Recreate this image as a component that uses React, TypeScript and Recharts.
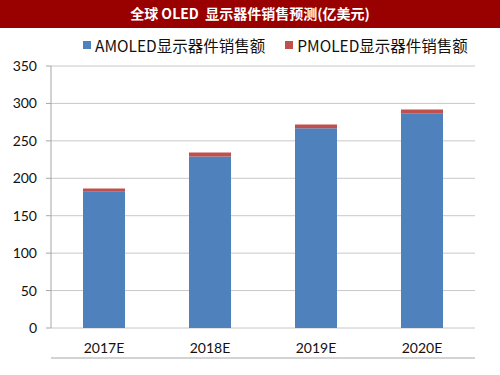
import React from 'react';
import { BarChart, Bar, XAxis, YAxis, CartesianGrid } from 'recharts';

const years = ['2017E', '2018E', '2019E', '2020E'];
const amoled = [182, 229, 267, 287];
const pmoled = [4.5, 5.5, 5, 5];
const yTicks = [0, 50, 100, 150, 200, 250, 300, 350];
const bounds = [0, 1, 2, 3, 4];

const AMOLED_NAME = 'AMOLED显示器件销售额';
const PMOLED_NAME = 'PMOLED显示器件销售额';

const data = years.map((y, i) => ({ year: y, idx: i + 0.5, amoled: amoled[i], pmoled: pmoled[i] }));

const font = '"Noto Sans CJK SC", "Noto Sans", sans-serif';
const tickFont = 'Lato, "Noto Sans", sans-serif';

const series = [
  { name: AMOLED_NAME, color: '#4F81BD' },
  { name: PMOLED_NAME, color: '#C0504D' },
];

const LegendBox = () => (
  <div
    style={{
      position: 'absolute', top: 35, left: 83, display: 'flex', whiteSpace: 'nowrap',
      fontFamily: font, fontSize: 15.5, color: '#111', lineHeight: '20px',
    }}
  >
    {series.map((e) => (
      <div key={e.name} style={{ display: 'flex', alignItems: 'center', marginRight: 20, flexShrink: 0 }}>
        <span style={{ width: 8, height: 8, background: e.color, marginRight: 4, display: 'inline-block' }} />
        <span>{e.name}</span>
      </div>
    ))}
  </div>
);

const App: React.FC = () => {
  return (
    <div style={{ position: 'absolute', left: 0, top: 0, width: 500, height: 375, background: '#fff' }}>
      <BarChart width={500} height={375} data={data} margin={{ top: 66, right: 25, bottom: 16, left: 11 }} barSize={42}>
        <CartesianGrid vertical={false} stroke="#c8c8c8" />
        <XAxis
          xAxisId="b"
          dataKey="idx"
          type="number"
          domain={[0, 4]}
          ticks={bounds}
          tick={false}
          height={1}
          tickSize={5}
          stroke="#a6a6a6"
        />
        <XAxis
          dataKey="year"
          axisLine={false}
          tickLine={false}
          tickSize={6}
          tickMargin={9}
          tick={{ fill: '#111', fontSize: 14, fontFamily: tickFont }}
        />
        <YAxis
          domain={[0, 350]}
          ticks={yTicks}
          width={40}
          tickSize={5}
          tickMargin={9}
          stroke="#a6a6a6"
          tick={{ fill: '#111', fontSize: 14, fontFamily: tickFont }}
          interval={0}
        />
        <Bar dataKey="amoled" name={AMOLED_NAME} stackId="a" fill="#4F81BD" isAnimationActive={false} />
        <Bar dataKey="pmoled" name={PMOLED_NAME} stackId="a" fill="#C0504D" isAnimationActive={false} />
      </BarChart>
      <div
        style={{
          position: 'absolute', left: 0, top: 0, width: 500, height: 28, background: '#990000',
          color: '#fff', fontFamily: font, fontWeight: 700, fontSize: 14, textAlign: 'center', lineHeight: '26px',
        }}
      >
        全球 OLED&nbsp; 显示器件销售预测(亿美元)
      </div>
      <LegendBox />
    </div>
  );
};

export default App;
